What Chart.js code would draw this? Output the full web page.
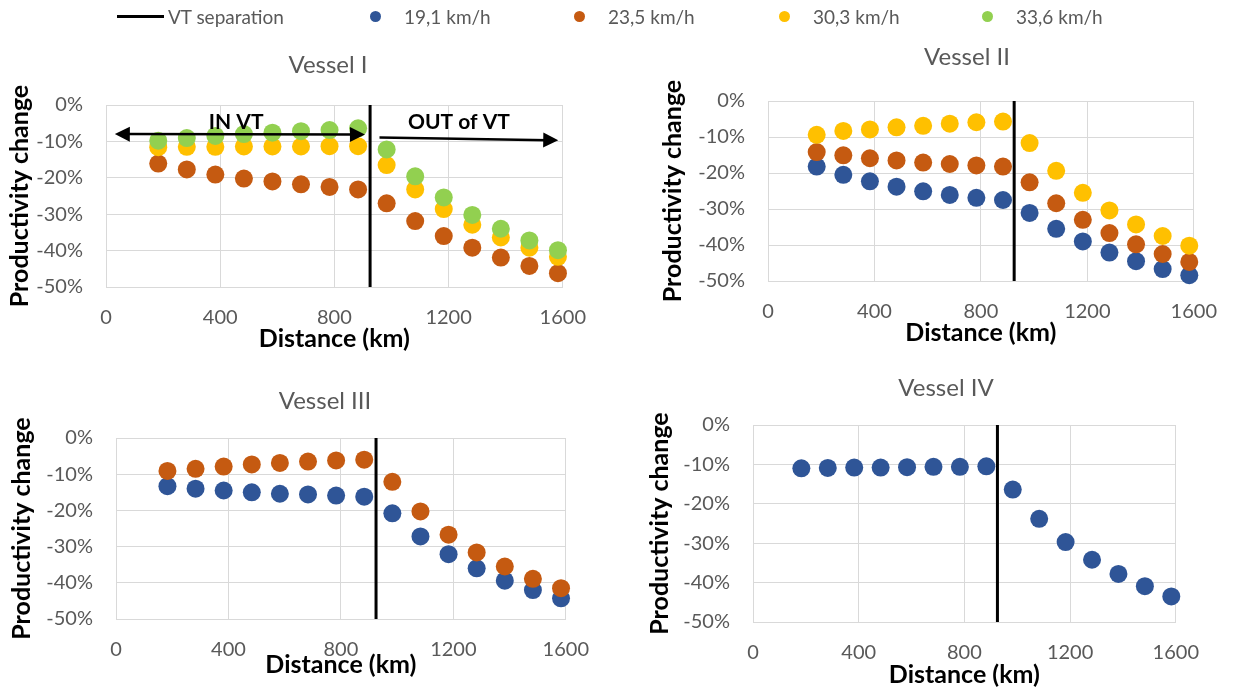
<!DOCTYPE html>
<html>
<head>
<meta charset="utf-8">
<script src="https://cdn.jsdelivr.net/npm/chart.js@4.4.1/dist/chart.umd.min.js"></script>
<style>
  html, body { margin: 0; padding: 0; background: #fff; }
  #page { position: relative; width: 1240px; height: 687px; overflow: hidden; font-family: Lato, sans-serif; }
  #page canvas { position: absolute; }
  .panel-title { position: absolute; transform: translate(-50%, -50%); font-size: 24px; color: #595959; white-space: nowrap; line-height: 1; }
  .leg-text { position: absolute; top: 16px; transform: translateY(-50%); font-size: 19px; color: #595959; white-space: nowrap; line-height: 1; }
  .leg-line { position: absolute; top: 15px; height: 3px; background: #000; }
  .leg-dot { position: absolute; top: 11px; width: 11px; height: 11px; border-radius: 50%; }
</style>
</head>
<body>
<div id="page"></div>
<script>
// distances (km) shared by every series
const distances = [183, 283, 383, 483, 583, 683, 783, 883, 983, 1083, 1183, 1283, 1383, 1483, 1583];

const speedLabels = ['19,1 km/h', '23,5 km/h', '30,3 km/h', '33,6 km/h'];
const speedColors = ['#2F5597', '#C55A11', '#FFC000', '#92D050'];

// VT separation line
const vtX = [925, 925];
const vtY = [0, -50];

// Vessel I
const v1Speed235 = [-16.1, -17.7, -19.1, -20.2, -21.0, -21.8, -22.5, -23.2, -27.0, -31.9, -36.0, -39.2, -41.9, -44.2, -46.2];
const v1Speed303 = [-11.6, -11.5, -11.5, -11.4, -11.4, -11.4, -11.3, -11.3, -16.5, -23.2, -28.6, -32.9, -36.4, -39.2, -41.7];
const v1Speed336 = [-9.8, -9.1, -8.5, -8.0, -7.6, -7.2, -6.9, -6.4, -12.2, -19.6, -25.4, -30.2, -34.0, -37.2, -39.9];

// Vessel II
const v2Speed191 = [-18.2, -20.5, -22.3, -23.8, -25.1, -26.1, -26.9, -27.5, -31.1, -35.5, -39.0, -42.1, -44.5, -46.7, -48.4];
const v2Speed235 = [-14.2, -15.1, -15.9, -16.5, -17.1, -17.5, -17.9, -18.2, -22.6, -28.4, -33.0, -36.7, -39.8, -42.5, -44.7];
const v2Speed303 = [-9.4, -8.3, -7.9, -7.3, -6.9, -6.3, -5.9, -5.7, -11.7, -19.4, -25.5, -30.4, -34.3, -37.5, -40.2];

// Vessel III
const v3Speed191 = [-13.3, -14.0, -14.5, -15.0, -15.4, -15.6, -15.9, -16.2, -20.8, -27.2, -32.1, -36.0, -39.4, -42.0, -44.3];
const v3Speed235 = [-9.1, -8.5, -7.9, -7.3, -6.9, -6.5, -6.2, -6.0, -12.1, -20.3, -26.7, -31.6, -35.5, -38.9, -41.5];

// Vessel IV
const v4Speed191 = [-11.0, -10.9, -10.8, -10.8, -10.7, -10.6, -10.6, -10.5, -16.4, -23.8, -29.7, -34.2, -37.8, -40.9, -43.5];

// IN / OUT of VT annotations (Vessel I), in data units
const inArrowX = [31, 907];
const inArrowY = [-8.0, -8.1];
const outArrowX = [958, 1584];
const outArrowY = [-8.9, -9.7];
const zoneLabels = ['IN VT', 'OUT of VT'];
const zoneLabelX = [456, 1236];
const zoneLabelY = [-4.6, -4.6];

Chart.defaults.font.family = 'Lato, sans-serif';
Chart.defaults.color = '#595959';

const page = document.getElementById('page');
const gridColor = '#D9D9D9';

function arrowHead(ctx, x0, y0, x1, y1) {
    const a = Math.atan2(y1 - y0, x1 - x0);
    const len = 15, half = 7.5;
    ctx.beginPath();
    ctx.moveTo(x1, y1);
    ctx.lineTo(x1 - len * Math.cos(a) + half * Math.sin(a), y1 - len * Math.sin(a) - half * Math.cos(a));
    ctx.lineTo(x1 - len * Math.cos(a) - half * Math.sin(a), y1 - len * Math.sin(a) + half * Math.cos(a));
    ctx.closePath();
    ctx.fill();
}

const zonePlugin = {
    id: 'zones',
    afterDatasetsDraw(chart) {
        const { ctx, scales: { x, y } } = chart;
        ctx.save();
        ctx.strokeStyle = '#000';
        ctx.fillStyle = '#000';
        ctx.lineWidth = 2.5;
        // IN VT: double headed
        const ax0 = x.getPixelForValue(inArrowX[0]), ay0 = y.getPixelForValue(inArrowY[0]);
        const ax1 = x.getPixelForValue(inArrowX[1]), ay1 = y.getPixelForValue(inArrowY[1]);
        ctx.beginPath(); ctx.moveTo(ax0 + 10, ay0); ctx.lineTo(ax1 - 10, ay1); ctx.stroke();
        arrowHead(ctx, ax1, ay1, ax0, ay0);
        arrowHead(ctx, ax0, ay0, ax1, ay1);
        // OUT of VT: single head
        const bx0 = x.getPixelForValue(outArrowX[0]), by0 = y.getPixelForValue(outArrowY[0]);
        const bx1 = x.getPixelForValue(outArrowX[1]), by1 = y.getPixelForValue(outArrowY[1]);
        ctx.beginPath(); ctx.moveTo(bx0, by0); ctx.lineTo(bx1 - 10, by1); ctx.stroke();
        arrowHead(ctx, bx0, by0, bx1, by1);
        // labels
        ctx.font = 'bold 21px Lato, sans-serif';
        ctx.textAlign = 'center';
        ctx.textBaseline = 'middle';
        zoneLabels.forEach((t, i) => {
            ctx.fillText(t, x.getPixelForValue(zoneLabelX[i]), y.getPixelForValue(zoneLabelY[i]));
        });
        ctx.restore();
    }
};

function makePanel(cfg) {
    const c = document.createElement('canvas');
    c.width = cfg.right - cfg.left;
    c.height = cfg.bottom - cfg.top;
    c.style.left = cfg.left + 'px';
    c.style.top = cfg.top + 'px';
    page.appendChild(c);

    const t = document.createElement('div');
    t.className = 'panel-title';
    t.textContent = cfg.title;
    t.style.left = cfg.titleX + 'px';
    t.style.top = cfg.titleY + 'px';
    page.appendChild(t);

    const datasets = cfg.series.map(s => ({
        label: speedLabels[s.k],
        data: distances.map((d, i) => ({ x: d, y: s.values[i] })),
        backgroundColor: speedColors[s.k],
        borderColor: speedColors[s.k],
        pointRadius: 9,
        pointHoverRadius: 9,
        pointBorderWidth: 0,
        order: 10 - s.k,
        clip: false
    }));
    datasets.push({
        label: 'VT separation',
        data: vtX.map((vx, i) => ({ x: vx, y: vtY[i] })),
        showLine: true,
        borderColor: '#000',
        borderWidth: 3,
        pointRadius: 0,
        order: 0,
        clip: false
    });

    new Chart(c, {
        type: 'scatter',
        data: { datasets },
        options: {
            responsive: false,
            animation: false,
            events: [],
            layout: { padding: { top: 15, right: 30, left: 0, bottom: 0 } },
            plugins: { legend: { display: false }, tooltip: { enabled: false } },
            scales: {
                x: {
                    min: 0, max: 1600,
                    ticks: { stepSize: 400, padding: 19, font: { size: 20 }, color: '#595959', callback: v => String(v) },
                    grid: { color: gridColor, drawTicks: false },
                    border: { color: gridColor },
                    title: { display: true, text: 'Distance (km)', color: '#000', font: { size: 25, weight: 'bold' }, padding: 0 },
                    afterFit: s => { s.height = cfg.xH; }
                },
                y: {
                    min: -50, max: 0,
                    ticks: { stepSize: 10, padding: 23, font: { size: 20 }, color: '#595959', callback: v => v + '%' },
                    grid: { color: gridColor, drawTicks: false },
                    border: { color: gridColor },
                    title: { display: true, text: 'Productivity change', color: '#000', font: { size: 25, weight: 'bold' }, padding: 0 },
                    afterFit: s => { s.width = cfg.yW; }
                }
            }
        },
        plugins: cfg.plugins || []
    });
}

makePanel({
    title: 'Vessel I', titleX: 328, titleY: 64,
    left: 5, top: 70, right: 605, bottom: 354, yW: 101, xH: 67,
    series: [{ k: 1, values: v1Speed235 }, { k: 2, values: v1Speed303 }, { k: 3, values: v1Speed336 }],
    plugins: [zonePlugin]
});
makePanel({
    title: 'Vessel II', titleX: 967, titleY: 56,
    left: 658, top: 66, right: 1236, bottom: 348, yW: 110, xH: 67,
    series: [{ k: 0, values: v2Speed191 }, { k: 1, values: v2Speed235 }, { k: 2, values: v2Speed303 }]
});
makePanel({
    title: 'Vessel III', titleX: 325, titleY: 400,
    left: 7, top: 403, right: 608, bottom: 680, yW: 109, xH: 61,
    series: [{ k: 0, values: v3Speed191 }, { k: 1, values: v3Speed235 }]
});
makePanel({
    title: 'Vessel IV', titleX: 946, titleY: 387,
    left: 645, top: 390, right: 1218, bottom: 690, yW: 108, xH: 68,
    series: [{ k: 0, values: v4Speed191 }]
});

// legend across the top
const legLine = document.createElement('div');
legLine.className = 'leg-line';
legLine.style.left = '117px';
legLine.style.width = '47px';
page.appendChild(legLine);
const legVT = document.createElement('div');
legVT.className = 'leg-text';
legVT.style.left = '168px';
legVT.textContent = 'VT separation';
page.appendChild(legVT);

const legendDotX = [375, 579, 784, 987];
speedLabels.forEach((lab, i) => {
    const d = document.createElement('div');
    d.className = 'leg-dot';
    d.style.left = (legendDotX[i] - 5.5) + 'px';
    d.style.background = speedColors[i];
    page.appendChild(d);
    const tx = document.createElement('div');
    tx.className = 'leg-text';
    tx.style.left = (legendDotX[i] + 29) + 'px';
    tx.textContent = lab;
    page.appendChild(tx);
});
</script>
</body>
</html>
